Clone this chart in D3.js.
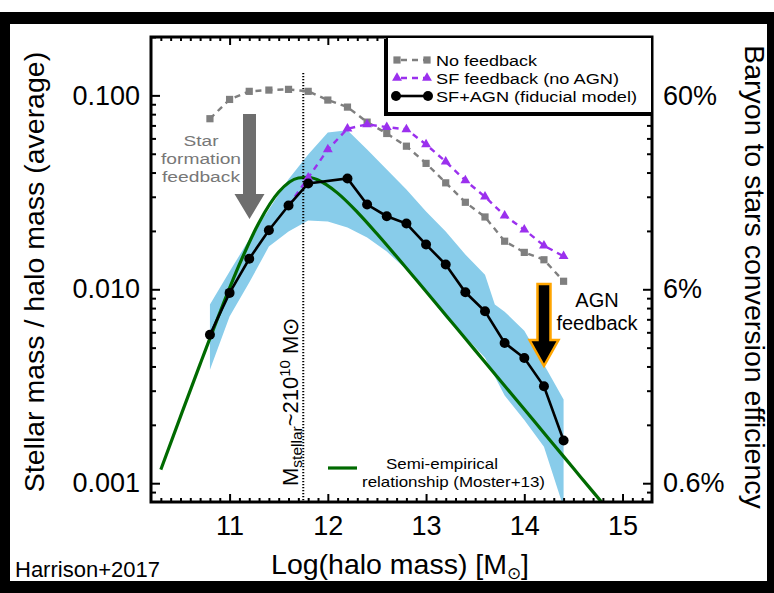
<!DOCTYPE html>
<html><head><meta charset="utf-8">
<script src="https://cdn.jsdelivr.net/npm/d3@7"></script>
<style>
html,body{margin:0;padding:0;background:#fff;}
svg{display:block;}
text{font-family:"Liberation Sans",Arial,Helvetica,sans-serif;}
</style>
</head><body>
<svg id="c" width="774" height="593"></svg>
<script>
// ---------------- DATA ----------------
const blackMass = [10.8,11.0,11.2,11.4,11.6,11.8,12.2,12.4,12.6,12.8,13.0,13.2,13.4,13.6,13.8,14.0,14.2,14.4];
const blackVals = [0.00583,0.00958,0.01436,0.02017,0.02704,0.03513,0.03728,0.02737,0.02381,0.02184,0.01701,0.01341,0.00965,0.0077,0.00529,0.00442,0.00316,0.00166];

const grayMass = [10.8,11.0,11.2,11.4,11.6,11.8,12.0,12.2,12.4,12.6,12.8,13.0,13.2,13.4,13.6,13.8,14.0,14.2,14.4];
const grayVals = [0.0758,0.0953,0.1049,0.1065,0.1074,0.1049,0.0946,0.0870,0.0728,0.0636,0.0547,0.0446,0.0354,0.0281,0.0236,0.0177,0.0155,0.0142,0.0110];

const purpleMass = [11.6,11.8,12.0,12.2,12.4,12.6,12.8,13.0,13.2,13.4,13.6,13.8,14.0,14.2,14.4];
const purpleVals = [0.0270,0.0376,0.0526,0.0673,0.0709,0.0686,0.0668,0.0558,0.0455,0.0364,0.0300,0.0240,0.0203,0.0168,0.0148];

const bandUpperMass = [10.8,11.0,11.2,11.4,11.6,11.8,12.0,12.2,12.4,12.6,12.8,13.0,13.2,13.4,13.6,13.7,13.8,14.0,14.2,14.4];
const bandUpperVals = [0.00834,0.01234,0.0181,0.0258,0.0369,0.0496,0.0644,0.0660,0.0526,0.0415,0.0327,0.0252,0.01986,0.0151,0.0119,0.00834,0.00767,0.00612,0.00409,0.00270];
const bandLowerMass = [10.8,11.0,11.2,11.4,11.6,11.8,12.0,12.2,12.4,12.6,12.8,13.0,13.2,13.4,13.6,13.8,14.0,14.2,14.4];
const bandLowerVals = [0.00385,0.00723,0.01083,0.0166,0.01986,0.02263,0.02237,0.0208,0.0185,0.01565,0.01264,0.00962,0.00714,0.0057,0.00444,0.00283,0.00212,0.00154,0.00075];

const mosterMass = [10.3,10.5,10.7,10.9,11.1,11.3,11.5,11.7,11.8,11.9,12.1,12.3,12.5,12.7,12.9,13.1,13.3,13.5,13.7,13.9,14.1,14.3,14.5,14.7,14.8];
const mosterVals = [0.001175,0.002206,0.004115,0.007564,0.01343,0.02213,0.03174,0.0375,0.03782,0.0366,0.03133,0.02501,0.01933,0.01475,0.01119,0.00847,0.006404,0.004841,0.00366,0.002766,0.002091,0.00158,0.001194,0.000902,0.000785];

const leftTickVals = [0.001,0.01,0.1];
const leftTickLabels = ["0.001","0.010","0.100"];
const rightTickLabels = ["0.6%","6%","60%"];
const xTickVals = [11,12,13,14,15];
const xTickLabels = ["11","12","13","14","15"];
const mstellarMass = 11.75;

const legendLabels = ["No feedback","SF feedback (no AGN)","SF+AGN (fiducial model)"];

// ---------------- LAYOUT ----------------
const L=151,R=652,T=37,B=502;
const svg=d3.select('#c');
const x=d3.scaleLinear().domain([10.2,15.3]).range([L,R]);
const y=d3.scaleLog().domain([0.0008,0.2]).range([B,T]);

const FONT='"Liberation Sans",Arial,Helvetica,sans-serif';
const GRAY='#7f7f7f', PURPLE='#9b30ee', GREEN='#006a00', BLUE='#88ccea';

// frame
svg.append('rect').attr('width',774).attr('height',593).attr('fill','#fff');
svg.append('rect').attr('x',0).attr('y',12).attr('width',774).attr('height',581).attr('fill','#000');
svg.append('rect').attr('x',10).attr('y',24).attr('width',757).attr('height',557).attr('fill','#fff');

svg.append('clipPath').attr('id','clip').append('rect').attr('x',L).attr('y',T).attr('width',R-L).attr('height',B-T);
const plot=svg.append('g').attr('clip-path','url(#clip)');

// band
const bandPts = bandUpperMass.map((m,i)=>[x(m),y(bandUpperVals[i])])
  .concat(bandLowerMass.map((m,i)=>[x(m),y(bandLowerVals[i])]).reverse());
plot.append('path').attr('d',d3.line()(bandPts)+'Z').attr('fill',BLUE).attr('stroke','none');

// moster
plot.append('path').datum(mosterMass.map((m,i)=>[m,mosterVals[i]]))
  .attr('d',d3.line().x(d=>x(d[0])).y(d=>y(d[1])).curve(d3.curveMonotoneX))
  .attr('fill','none').attr('stroke',GREEN).attr('stroke-width',3.2);

// dotted vertical
plot.append('line').attr('x1',x(mstellarMass)).attr('x2',x(mstellarMass))
  .attr('y1',73).attr('y2',B).attr('stroke','#000').attr('stroke-width',2).attr('stroke-dasharray','1.2,1.8');

// gray no feedback
const gData=grayMass.map((m,i)=>[m,grayVals[i]]);
plot.append('path').datum(gData).attr('d',d3.line().x(d=>x(d[0])).y(d=>y(d[1])))
  .attr('fill','none').attr('stroke',GRAY).attr('stroke-width',2.4).attr('stroke-dasharray','6,5');
plot.selectAll('rect.g').data(gData).enter().append('rect')
  .attr('x',d=>x(d[0])-3.6).attr('y',d=>y(d[1])-3.6).attr('width',7.2).attr('height',7.2).attr('fill',GRAY);

// purple
const pData=purpleMass.map((m,i)=>[m,purpleVals[i]]);
plot.append('path').datum(pData).attr('d',d3.line().x(d=>x(d[0])).y(d=>y(d[1])))
  .attr('fill','none').attr('stroke',PURPLE).attr('stroke-width',2.4).attr('stroke-dasharray','6,5');
plot.selectAll('path.tri').data(pData.slice(1)).enter().append('path')
  .attr('d',d3.symbol().type(d3.symbolTriangle).size(42))
  .attr('transform',d=>`translate(${x(d[0])},${y(d[1])})`).attr('fill',PURPLE);

// black
const bData=blackMass.map((m,i)=>[m,blackVals[i]]);
plot.append('path').datum(bData).attr('d',d3.line().x(d=>x(d[0])).y(d=>y(d[1])))
  .attr('fill','none').attr('stroke','#000').attr('stroke-width',2.6);
plot.selectAll('circle.b').data(bData).enter().append('circle')
  .attr('cx',d=>x(d[0])).attr('cy',d=>y(d[1])).attr('r',5).attr('fill','#000');

// ---------------- AXES ----------------
function minorLog(){const a=[];for(let e=-4;e<0;e++){for(let k=2;k<=9;k++){const v=k*Math.pow(10,e);if(v>0.0008&&v<0.2)a.push(v);}}a.push(0.2);return a;}
const yMinor=minorLog();
const xMinor=d3.range(103,153).map(v=>v/10).filter(v=>Math.abs(v-Math.round(v))>1e-6);

function styleAxis(g){g.select('.domain').remove();g.selectAll('line').attr('stroke','#000').attr('stroke-width',2);}

const lMaj=svg.append('g').attr('transform',`translate(${L},0)`)
  .call(d3.axisLeft(y).tickValues(leftTickVals).tickSize(-9).tickPadding(11).tickFormat((d,i)=>leftTickLabels[i]));
const lMin=svg.append('g').attr('transform',`translate(${L},0)`)
  .call(d3.axisLeft(y).tickValues(yMinor).tickSize(-5).tickFormat(''));
const rMaj=svg.append('g').attr('transform',`translate(${R},0)`)
  .call(d3.axisRight(y).tickValues(leftTickVals).tickSize(-9).tickPadding(11).tickFormat((d,i)=>rightTickLabels[i]));
const rMin=svg.append('g').attr('transform',`translate(${R},0)`)
  .call(d3.axisRight(y).tickValues(yMinor).tickSize(-5).tickFormat(''));
const bMaj=svg.append('g').attr('transform',`translate(0,${B})`)
  .call(d3.axisBottom(x).tickValues(xTickVals).tickSize(-8).tickPadding(14).tickFormat((d,i)=>xTickLabels[i]));
const bMin=svg.append('g').attr('transform',`translate(0,${B})`)
  .call(d3.axisBottom(x).tickValues(xMinor).tickSize(-4).tickFormat(''));
const tMaj=svg.append('g').attr('transform',`translate(0,${T})`)
  .call(d3.axisTop(x).tickValues(xTickVals).tickSize(-8).tickFormat(''));
const tMin=svg.append('g').attr('transform',`translate(0,${T})`)
  .call(d3.axisTop(x).tickValues(xMinor).tickSize(-4).tickFormat(''));
[lMaj,lMin,rMaj,rMin,bMaj,bMin,tMaj,tMin].forEach(styleAxis);
[lMaj,rMaj,bMaj].forEach(g=>g.selectAll('text').attr('font-family',FONT).attr('font-size',27).attr('fill','#000'));

svg.append('rect').attr('x',L).attr('y',T).attr('width',R-L).attr('height',B-T)
  .attr('fill','none').attr('stroke','#000').attr('stroke-width',3);

// axis titles
svg.append('text').attr('transform',`translate(44,272) rotate(-90)`).attr('text-anchor','middle')
  .attr('font-size',28.5).attr('fill','#000').text('Stellar mass / halo mass (average)');
svg.append('text').attr('transform',`translate(745,277) rotate(90)`).attr('text-anchor','middle')
  .attr('font-size',28.5).attr('fill','#000').text('Baryon to stars conversion efficiency');
const xt=svg.append('text').attr('x',400).attr('y',574).attr('text-anchor','middle').attr('font-size',28.5).attr('fill','#000');
xt.append('tspan').text('Log(halo mass) [M');
xt.append('tspan').attr('font-size',17).attr('dy',5).text('⊙');
xt.append('tspan').attr('dy',-5).text(']');

svg.append('text').attr('x',15).attr('y',577).attr('font-size',22).attr('fill','#000').text('Harrison+2017');

// ---------------- LEGEND ----------------
svg.append('rect').attr('x',384).attr('y',39).attr('width',268).attr('height',77).attr('fill','#000');
svg.append('rect').attr('x',387).attr('y',37).attr('width',265).attr('height',76).attr('fill','#fff').attr('stroke','#000').attr('stroke-width',2);
const legY=[60,78,96];
const legW=[101,183,201];
const lg=svg.append('g');
lg.append('line').attr('x1',397).attr('x2',427).attr('y1',legY[0]).attr('y2',legY[0]).attr('stroke',GRAY).attr('stroke-width',2.4).attr('stroke-dasharray','6,5').attr('stroke-dashoffset',-4);
[397,427].forEach(px=>lg.append('rect').attr('x',px-3.6).attr('y',legY[0]-3.6).attr('width',7.2).attr('height',7.2).attr('fill',GRAY));
lg.append('line').attr('x1',397).attr('x2',427).attr('y1',legY[1]).attr('y2',legY[1]).attr('stroke',PURPLE).attr('stroke-width',2.4).attr('stroke-dasharray','6,5').attr('stroke-dashoffset',-4);
[397,427].forEach(px=>lg.append('path').attr('d',d3.symbol().type(d3.symbolTriangle).size(42)()).attr('transform',`translate(${px},${legY[1]})`).attr('fill',PURPLE));
lg.append('line').attr('x1',396).attr('x2',428).attr('y1',legY[2]).attr('y2',legY[2]).attr('stroke','#000').attr('stroke-width',2.6);
[396,428].forEach(px=>lg.append('circle').attr('cx',px).attr('cy',legY[2]).attr('r',5).attr('fill','#000'));
legendLabels.forEach((t,i)=>lg.append('text').attr('x',436).attr('y',legY[i]+5.5).attr('font-size',15.5)
  .attr('textLength',legW[i]).attr('lengthAdjust','spacingAndGlyphs').attr('fill','#000').text(t));

// moster legend
svg.append('line').attr('x1',328).attr('x2',357).attr('y1',468).attr('y2',468).attr('stroke',GREEN).attr('stroke-width',3.2);
svg.append('text').attr('x',386).attr('y',469).attr('font-size',15).attr('textLength',112).attr('lengthAdjust','spacingAndGlyphs').attr('fill','#000').text('Semi-empirical');
svg.append('text').attr('x',362).attr('y',486.5).attr('font-size',15).attr('textLength',183).attr('lengthAdjust','spacingAndGlyphs').attr('fill','#000').text('relationship (Moster+13)');

// ---------------- ANNOTATIONS ----------------
// Star formation feedback arrow
const sx=249.5;
svg.append('path').attr('d',`M${sx-6.5},114 L${sx+6.5},114 L${sx+6.5},194 L${sx+15},194 L${sx},219 L${sx-15},194 L${sx-6.5},194 Z`).attr('fill','#6e6e6e');
const sfW=[35,80,78];
['Star','formation','feedback'].forEach((t,i)=>svg.append('text').attr('x',201).attr('y',146+i*18).attr('text-anchor','middle')
  .attr('font-size',15.5).attr('textLength',sfW[i]).attr('lengthAdjust','spacingAndGlyphs').attr('fill','#777').text(t));

// AGN arrow
const ax=544;
svg.append('path').attr('d',`M${ax-6.5},284 L${ax+6.5},284 L${ax+6.5},340 L${ax+14.5},340 L${ax},366 L${ax-14.5},340 L${ax-6.5},340 Z`)
  .attr('fill','#000').attr('stroke','#ffa500').attr('stroke-width',2.5).attr('stroke-linejoin','miter');
svg.append('text').attr('x',597).attr('y',307).attr('text-anchor','middle').attr('font-size',20).attr('fill','#000').text('AGN');
svg.append('text').attr('x',597).attr('y',330).attr('text-anchor','middle').attr('font-size',20).attr('fill','#000').text('feedback');

// Mstellar label
const ms=svg.append('text').attr('transform',`translate(298,486) rotate(-90)`).attr('font-size',22).attr('fill','#000');
ms.append('tspan').text('M');
ms.append('tspan').attr('font-size',15.5).attr('dy',4).text('stellar');
ms.append('tspan').attr('dy',-4).text('~210');
ms.append('tspan').attr('font-size',15).attr('dy',-8).text('10');
ms.append('tspan').attr('dy',8).text(' M⊙');
</script>
</body></html>
